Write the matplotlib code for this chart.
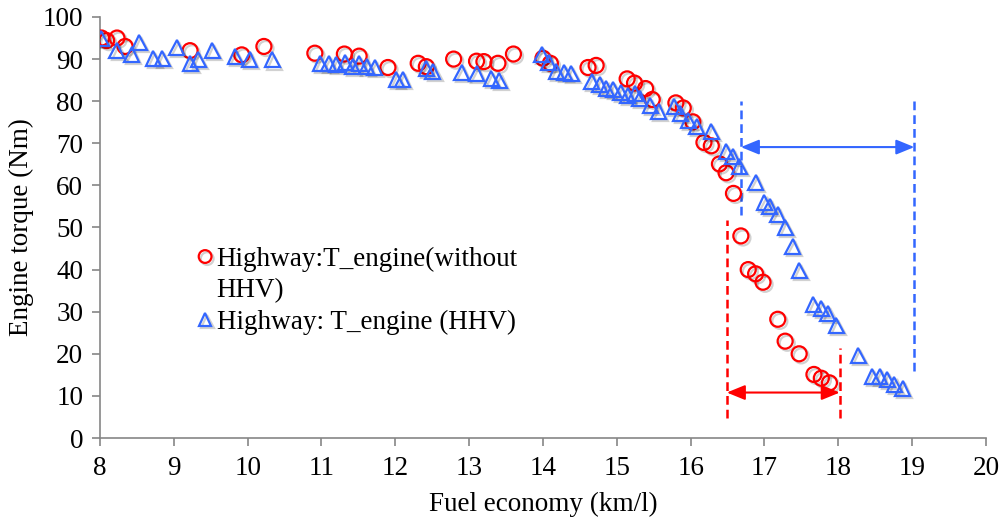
import matplotlib
matplotlib.use("Agg")
import matplotlib.pyplot as plt
import matplotlib.patheffects as pe
from matplotlib.lines import Line2D

# ---- data ----
no_hhv_x = [8.02, 8.09, 8.23, 8.34, 9.22, 9.92, 10.22, 10.91, 11.31, 11.51, 11.90, 12.31,
            12.42, 12.79, 13.10, 13.20, 13.39, 13.60, 14.00, 14.10, 14.61, 14.72, 15.14,
            15.24, 15.39, 15.48, 15.80, 15.90, 16.03, 16.18, 16.28, 16.39, 16.48, 16.58,
            16.68, 16.78, 16.88, 16.98, 17.18, 17.28, 17.47, 17.67, 17.77, 17.88]
no_hhv_y = [95.0, 94.4, 95.0, 93.0, 92.0, 91.0, 93.0, 91.4, 91.2, 90.7, 88.0, 89.0,
            88.2, 90.0, 89.5, 89.4, 89.0, 91.2, 90.2, 89.0, 88.0, 88.5, 85.3,
            84.3, 83.0, 80.4, 79.6, 78.4, 75.1, 70.2, 69.4, 65.1, 63.0, 58.1,
            48.0, 40.0, 39.0, 37.0, 28.2, 23.0, 20.0, 15.1, 14.2, 13.1]

hhv_x = [8.02, 8.23, 8.43, 8.53, 8.72, 8.84, 9.04, 9.22, 9.33, 9.52, 9.83, 10.03, 10.33,
         10.98, 11.10, 11.20, 11.32, 11.42, 11.51, 11.61, 11.72, 12.01, 12.10, 12.42,
         12.51, 12.90, 13.10, 13.30, 13.41, 13.98, 14.08, 14.18, 14.29, 14.38, 14.66,
         14.77, 14.86, 14.95, 15.05, 15.15, 15.25, 15.31, 15.45, 15.57, 15.78, 15.86,
         15.97, 16.08, 16.28, 16.48, 16.57, 16.66, 16.88, 17.00, 17.07, 17.18, 17.28,
         17.38, 17.47, 17.66, 17.77, 17.86, 17.97, 18.27, 18.46, 18.56, 18.66, 18.76, 18.87]
hhv_y = [95.0, 92.0, 91.0, 94.0, 90.2, 90.2, 92.8, 89.0, 90.0, 92.0, 90.6, 90.0, 89.8,
         89.0, 89.0, 88.8, 89.1, 88.3, 89.0, 88.2, 88.0, 85.2, 85.2, 87.8,
         87.0, 86.8, 86.6, 85.4, 85.0, 91.0, 89.1, 87.0, 86.8, 86.5, 84.7,
         84.0, 83.0, 82.7, 82.0, 81.3, 81.9, 80.7, 79.0, 77.5, 78.8, 77.1,
         75.5, 74.0, 72.8, 68.0, 66.8, 64.5, 60.6, 56.0, 55.0, 53.0, 50.0,
         45.6, 39.7, 31.6, 30.8, 29.6, 26.8, 19.7, 14.7, 14.7, 13.8, 12.8, 11.8]

# annotation ranges (x start, x end), arrow level, dashed-line spans
hhv_range = [16.68, 19.03]
hhv_arrow_y = 69.1
hhv_left_span = [53.0, 80.0]
hhv_right_span = [16.0, 81.0]
no_hhv_range = [16.49, 18.02]
no_hhv_arrow_y = 10.8
no_hhv_left_span = [4.8, 51.8]
no_hhv_right_span = [4.8, 21.3]

x_ticks = list(range(8, 21))
y_ticks = list(range(0, 101, 10))

label_no_hhv_lines = ["Highway:T_engine(without", "HHV)"]
label_hhv = "Highway: T_engine (HHV)"
x_label = "Fuel economy (km/l)"
y_label = "Engine torque (Nm)"

# ---- style ----
RED = "#FF0000"
BLUE = "#3366FF"
AXC = "#868686"
FS = 19.5
plt.rcParams["font.family"] = ["Liberation Serif", "DejaVu Serif"]

fig = plt.figure(figsize=(10.02, 5.21), dpi=100)
ax = fig.add_axes([0.0998, 0.1593, 0.8842, 0.8081])

shadow = [pe.SimpleLineShadow(offset=(1.5, -1.5), shadow_color="black", alpha=0.18),
          pe.Normal()]

h1, = ax.plot(no_hhv_x, no_hhv_y, linestyle="none", marker="o", markersize=10.8,
              markerfacecolor="none", markeredgecolor=RED, markeredgewidth=1.6,
              path_effects=shadow, zorder=3)
h2, = ax.plot(hhv_x, hhv_y, linestyle="none", marker="^", markersize=10.8,
              markerfacecolor="none", markeredgecolor=BLUE, markeredgewidth=1.6,
              path_effects=shadow, zorder=3)

# dashed markers of ranges
dash = (0, (3.5, 2))
ax.plot([hhv_range[0]] * 2, hhv_left_span, color=BLUE, lw=1.8, linestyle=dash, zorder=2)
ax.plot([hhv_range[1]] * 2, hhv_right_span, color=BLUE, lw=1.8, linestyle=dash, zorder=2)
ax.plot([no_hhv_range[0]] * 2, no_hhv_left_span, color=RED, lw=1.8, linestyle=dash, zorder=2)
ax.plot([no_hhv_range[1]] * 2, no_hhv_right_span, color=RED, lw=1.8, linestyle=dash, zorder=2)

ax.annotate("", xy=(hhv_range[0], hhv_arrow_y), xytext=(hhv_range[1], hhv_arrow_y),
            arrowprops=dict(arrowstyle="<|-|>,head_length=1.1,head_width=0.45",
                            color=BLUE, lw=1.5, shrinkA=0, shrinkB=0))
ax.annotate("", xy=(no_hhv_range[0], no_hhv_arrow_y), xytext=(no_hhv_range[1], no_hhv_arrow_y),
            arrowprops=dict(arrowstyle="<|-|>,head_length=1.1,head_width=0.45",
                            color=RED, lw=1.5, shrinkA=0, shrinkB=0))

ax.set_xlim(8, 20)
ax.set_ylim(0, 100)
ax.set_xticks(x_ticks)
ax.set_yticks(y_ticks)
for s in ("top", "right"):
    ax.spines[s].set_visible(False)
for s in ("left", "bottom"):
    ax.spines[s].set_color(AXC)
    ax.spines[s].set_linewidth(1.2)
ax.tick_params(axis="both", direction="out", length=6, width=1.2, color=AXC,
               labelsize=FS, labelcolor="black")
ax.tick_params(axis="y", pad=6)
ax.tick_params(axis="x", pad=7)

ax.set_xlabel(x_label, fontsize=FS, labelpad=8)
ax.set_ylabel(y_label, fontsize=FS, labelpad=6)

# legend: marker aligned with first line of the wrapped label
blank = Line2D([], [], linestyle="none", marker="none")
ax.legend([h1, blank, h2], label_no_hhv_lines + [label_hhv],
          loc="upper left", bbox_to_anchor=(0.111, 0.454), frameon=False,
          fontsize=FS, handlelength=0.5, handletextpad=0.18, borderpad=0,
          labelspacing=0.24, markerscale=0.85, borderaxespad=0)

fig.savefig("out.png", dpi=100)
